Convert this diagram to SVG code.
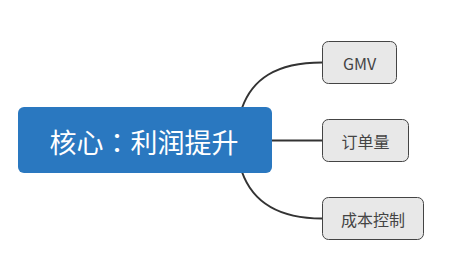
<svg xmlns="http://www.w3.org/2000/svg" width="463" height="259" viewBox="0 0 463 259">
<style>
.conn{fill:none;stroke:#333;stroke-width:2}
.child rect{fill:#e8e8e8;stroke:#444;stroke-width:1}
.child text{font-family:"Noto Sans CJK SC","Noto Sans",sans-serif;font-size:16px;fill:#444;text-anchor:middle;dominant-baseline:central}
.root text{font-family:"Noto Sans CJK SC","Noto Sans",sans-serif;font-size:27px;fill:#fff;text-anchor:middle;dominant-baseline:central}
</style>
<rect width="463" height="259" fill="#fff"/>
<g id="connectors">
<path class="conn" d="M242 108 C252 80,275 62.5,322 62.5"/>
<path class="conn" d="M272 140.5 L322 140.5"/>
<path class="conn" d="M242 172 C252 200,275 218.5,322 218.5"/>
</g>
<g id="root" class="root">
<rect x="18" y="107" width="254" height="66" rx="6" fill="#2a78c0"/>
<text x="144" y="141">核心<tspan font-family="Noto Sans CJK TC, sans-serif">：</tspan>利润提升</text>
</g>
<g id="gmv" class="child">
<rect x="322.5" y="41.5" width="74" height="42" rx="6"/>
<text x="359.5" y="62.5" font-size="15">GMV</text>
</g>
<g id="orders" class="child">
<rect x="322.5" y="119.5" width="86" height="42" rx="6"/>
<text x="365.5" y="140.5">订单量</text>
</g>
<g id="cost" class="child">
<rect x="322.5" y="197.5" width="101" height="42" rx="6"/>
<text x="373" y="218.5">成本控制</text>
</g>
</svg>
